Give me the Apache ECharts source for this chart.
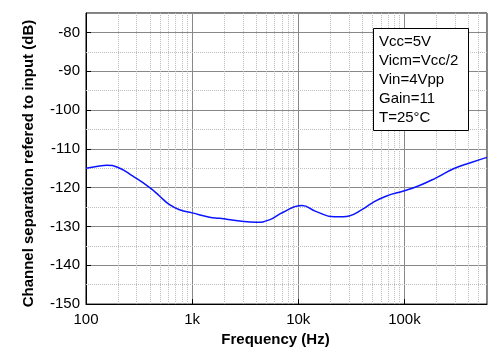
<!DOCTYPE html>
<html>
<head>
<meta charset="utf-8">
<script src="https://cdn.jsdelivr.net/npm/echarts@6/dist/echarts.min.js"></script>
<style>
  html, body { margin: 0; padding: 0; background: #fff; }
  #chart { width: 488px; height: 352px; }
</style>
</head>
<body>
<div id="chart"></div>
<script>
// curve: frequency (Hz) vs channel separation (dB)
const freqs = [100, 130, 156, 201, 279, 399, 495, 613, 763, 1000, 1460, 1810, 2800, 4010, 5340, 7130,
  10800, 14600, 21800, 26600, 30100, 40100, 50000, 67000, 100000, 137000, 195000, 297000, 426000, 600000];
const sepDb = [-115.0, -114.5, -114.2, -114.8, -117.1, -120.0, -122.2, -124.4, -125.7, -126.5, -127.6, -127.9,
  -128.6, -128.9, -128.3, -126.4, -124.6, -126.1, -127.5, -127.5, -127.3, -125.6, -123.9, -122.2,
  -120.8, -119.5, -117.6, -115.0, -113.5, -112.2];

const xLabels = { 100: "100", 1000: "1k", 10000: "10k", 100000: "100k" };
const xMinor = [200, 300, 400, 500, 600, 700, 800, 900,
  2000, 3000, 4000, 5000, 6000, 7000, 8000, 9000,
  20000, 30000, 40000, 50000, 60000, 70000, 80000, 90000,
  200000, 300000, 400000, 500000];
const yMinor = [-145, -135, -125, -115, -105, -95, -85];
const conditions = ["Vcc=5V", "Vicm=Vcc/2", "Vin=4Vpp", "Gain=11", "T=25°C"];

const font = "'Liberation Sans', Arial, sans-serif";
const chart = echarts.init(document.getElementById("chart"), null, { renderer: "canvas" });

chart.setOption({
  animation: false,
  textStyle: { fontFamily: font },
  title: {
    text: conditions.join("\n"),
    left: 373,
    top: 28,
    padding: [4, 10, 4, 6],
    borderColor: "#000",
    borderWidth: 1,
    backgroundColor: "#fff",
    textStyle: { fontFamily: font, fontSize: 15, fontWeight: "normal", color: "#000", lineHeight: 19 },
    z: 10
  },
  grid: {
    left: 86, right: 1, top: 13, bottom: 45,
    show: true, borderColor: "#000", borderWidth: 1
  },
  xAxis: {
    type: "log",
    logBase: 10,
    min: 100,
    max: 600000,
    name: "Frequency (Hz)",
    nameLocation: "middle",
    nameGap: 24,
    nameTextStyle: { fontFamily: font, fontSize: 15, fontWeight: "bold", color: "#000", padding: [0, 22, 0, 0] },
    axisLine: { lineStyle: { color: "#000", width: 1 } },
    axisTick: { inside: true, length: 5, lineStyle: { color: "#000" } },
    axisLabel: {
      fontFamily: font, fontSize: 15, color: "#000", margin: 8,
      showMaxLabel: false,
      formatter: v => xLabels[Math.round(v)] || ""
    },
    splitLine: { show: true, lineStyle: { color: "#888", width: 1 } }
  },
  yAxis: {
    type: "value",
    min: -150,
    max: -75,
    interval: 10,
    name: "Channel separation refered to input (dB)",
    nameLocation: "middle",
    nameGap: 50,
    nameTextStyle: { fontFamily: font, fontSize: 15, fontWeight: "bold", color: "#000", padding: [0, 10, 0, 0] },
    axisLine: { show: true, lineStyle: { color: "#000", width: 1 } },
    axisTick: { inside: true, length: 5, lineStyle: { color: "#000" } },
    axisLabel: {
      fontFamily: font, fontSize: 15, color: "#000", margin: 6,
      showMaxLabel: false,
      formatter: v => (v % 10 === 0 ? String(v) : "")
    },
    splitLine: { show: true, lineStyle: { color: "#888", width: 1 } }
  },
  series: [
    {
      name: "grid-minor",
      type: "line",
      data: [],
      silent: true,
      z: 1,
      markLine: {
        silent: true,
        symbol: "none",
        label: { show: false },
        lineStyle: { color: "#bdbdbd", type: "dotted", width: 1 },
        data: xMinor.map(v => ({ xAxis: v })).concat(yMinor.map(v => ({ yAxis: v })))
      }
    },
    {
      name: "separation",
      type: "line",
      data: freqs.map((f, i) => [f, sepDb[i]]),
      smooth: 0.5,
      showSymbol: false,
      z: 5,
      lineStyle: { color: "#0a14ff", width: 1.5 }
    }
  ]
});
</script>
</body>
</html>
